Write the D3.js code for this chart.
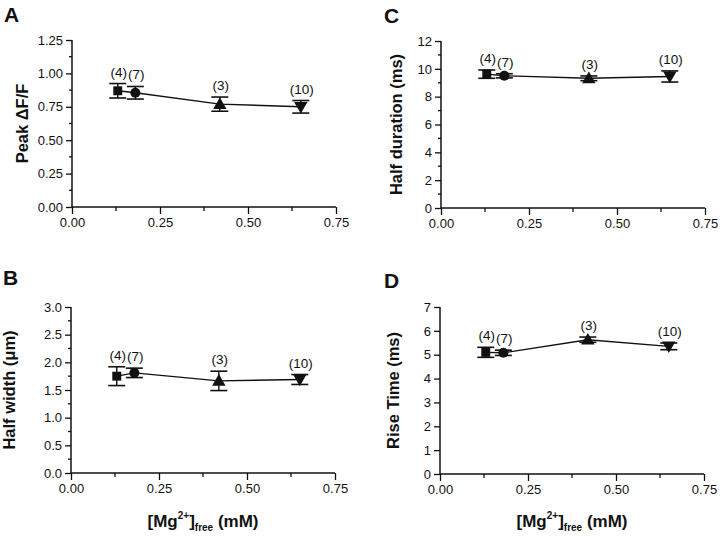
<!DOCTYPE html>
<html>
<head>
<meta charset="utf-8">
<script src="https://cdn.jsdelivr.net/npm/d3@7/dist/d3.min.js"></script>
<style>
  html, body { margin: 0; padding: 0; background: #fff; }
  svg { display: block; }
  text { font-family: "Liberation Sans", Arial, Helvetica, sans-serif; fill: #111; }
</style>
</head>
<body>
<svg id="chart" width="720" height="537"></svg>
<script>
// ---- data ----
const mgFree = [0.13, 0.18, 0.42, 0.65];
const nCells = ["(4)", "(7)", "(3)", "(10)"];
const markerKinds = ["square", "circle", "triangle", "triangleDown"];

const peakMean = [0.87, 0.855, 0.77, 0.75];
const peakErr  = [0.054, 0.047, 0.053, 0.047];

const widthMean = [1.75, 1.81, 1.665, 1.69];
const widthErr  = [0.17, 0.085, 0.175, 0.09];

const durMean = [9.62, 9.5, 9.32, 9.45];
const durErr  = [0.3, 0.15, 0.17, 0.4];

const riseMean = [5.1, 5.08, 5.63, 5.35];
const riseErr  = [0.21, 0.11, 0.11, 0.14];

const xTicks = [0, 0.25, 0.5, 0.75];
const xMinor = [0.125, 0.375, 0.625];

const panels = [
  { letter: "A", title: "Peak \u0394F/F", mean: peakMean, err: peakErr, ymax: 1.25,
    ticks: [0, 0.25, 0.5, 0.75, 1.0, 1.25], minor: [0.125, 0.375, 0.625, 0.875, 1.125], fmt: ".2f",
    box: { x: 72, y: 40, h: 167 }, letterPos: [4, 22], titleX: 28 },
  { letter: "B", title: "Half width (\u03bcm)", mean: widthMean, err: widthErr, ymax: 3,
    ticks: [0, 0.5, 1, 1.5, 2, 2.5, 3], minor: [0.25, 0.75, 1.25, 1.75, 2.25, 2.75], fmt: ".1f",
    box: { x: 71, y: 307, h: 166 }, letterPos: [3, 285], titleX: 15, xtitle: true },
  { letter: "C", title: "Half duration (ms)", mean: durMean, err: durErr, ymax: 12,
    ticks: [0, 2, 4, 6, 8, 10, 12], minor: [1, 3, 5, 7, 9, 11], fmt: "d",
    box: { x: 441, y: 41, h: 167 }, letterPos: [384, 23], titleX: 402 },
  { letter: "D", title: "Rise Time (ms)", mean: riseMean, err: riseErr, ymax: 7,
    ticks: [0, 1, 2, 3, 4, 5, 6, 7], minor: [], fmt: "d",
    box: { x: 440, y: 307, h: 167 }, letterPos: [384, 288], titleX: 399, xtitle: true }
];

const svg = d3.select("#chart");
const plotW = 264;

function markerPath(kind) {
  if (kind === "square") return d3.symbol().type(d3.symbolSquare).size(80)();
  if (kind === "circle") return d3.symbol().type(d3.symbolCircle).size(80)();
  return d3.symbol().type(d3.symbolTriangle).size(78)();
}

panels.forEach(p => {
  const g = svg.append("g");
  const x = d3.scaleLinear().domain([0, 0.75]).range([p.box.x, p.box.x + plotW]);
  const y = d3.scaleLinear().domain([0, p.ymax]).range([p.box.y + p.box.h, p.box.y]);
  const y0 = p.box.y + p.box.h;

  // x axis
  const xa = g.append("g").attr("transform", `translate(0,${y0})`)
    .call(d3.axisBottom(x).tickValues(xTicks).tickSize(7).tickPadding(4).tickFormat(d3.format(".2f")));
  xa.append("g").selectAll("line").data(xMinor).join("line")
    .attr("x1", d => x(d)).attr("x2", d => x(d)).attr("y1", 0).attr("y2", 4)
    .attr("stroke", "#111").attr("stroke-width", 1.3);

  // y axis
  const ya = g.append("g").attr("transform", `translate(${p.box.x},0)`)
    .call(d3.axisLeft(y).tickValues(p.ticks).tickSize(6).tickPadding(3).tickFormat(d3.format(p.fmt)));
  ya.append("g").selectAll("line").data(p.minor).join("line")
    .attr("x1", 0).attr("x2", -3).attr("y1", d => y(d)).attr("y2", d => y(d))
    .attr("stroke", "#111").attr("stroke-width", 1.3);

  [xa, ya].forEach(a => {
    a.select(".domain").attr("stroke", "#111").attr("stroke-width", 1.5)
      .attr("d", a === xa ? `M${x(0)},0H${x(0.75)}` : `M0,${y(0)}V${y(p.ymax)}`);
    a.selectAll(".tick line").attr("stroke", "#111").attr("stroke-width", 1.3);
    a.selectAll(".tick text").attr("font-size", 13).attr("fill", "#1a1a1a")
      .attr("font-family", "'Liberation Sans', Arial, sans-serif");
  });

  // connecting line
  const pts = mgFree.map((v, i) => [x(v), y(p.mean[i])]);
  g.append("path").attr("d", d3.line()(pts))
    .attr("fill", "none").attr("stroke", "#111").attr("stroke-width", 1.4);

  // error bars
  const cap = 8.5;
  mgFree.forEach((v, i) => {
    const cx = x(v), hi = y(p.mean[i] + p.err[i]), lo = y(p.mean[i] - p.err[i]);
    g.append("line").attr("x1", cx).attr("x2", cx).attr("y1", hi).attr("y2", lo)
      .attr("stroke", "#111").attr("stroke-width", 1.4);
    [hi, lo].forEach(yy => g.append("line").attr("x1", cx - cap).attr("x2", cx + cap)
      .attr("y1", yy).attr("y2", yy).attr("stroke", "#111").attr("stroke-width", 1.6));
  });

  // markers
  mgFree.forEach((v, i) => {
    const k = markerKinds[i];
    const rot = k === "triangleDown" ? 180 : 0;
    const dy = k === "triangle" ? 1 : (k === "triangleDown" ? -1 : 0);
    g.append("path").attr("d", markerPath(k))
      .attr("transform", `translate(${x(v)},${y(p.mean[i]) + dy}) rotate(${rot})`)
      .attr("fill", "#111");
  });

  // n labels
  mgFree.forEach((v, i) => {
    g.append("text").attr("x", x(v) + 1).attr("y", y(p.mean[i] + p.err[i]) - 7)
      .attr("text-anchor", "middle").attr("font-size", 13.5).text(nCells[i]);
  });

  // panel letter
  g.append("text").attr("x", p.letterPos[0]).attr("y", p.letterPos[1])
    .attr("font-size", 21).attr("font-weight", "bold").text(p.letter);

  // y title
  g.append("text")
    .attr("transform", `translate(${p.titleX},${p.box.y + p.box.h / 2}) rotate(-90)`)
    .attr("text-anchor", "middle").attr("font-size", 16.5).attr("font-weight", "bold")
    .text(p.title);

  // x title
  if (p.xtitle) {
    const t = g.append("text").attr("x", p.box.x + 132).attr("y", 527)
      .attr("text-anchor", "middle").attr("font-size", 17).attr("font-weight", "bold");
    t.append("tspan").text("[Mg");
    t.append("tspan").attr("font-size", 10).attr("dy", -8).text("2+");
    t.append("tspan").attr("dy", 8).text("]");
    t.append("tspan").attr("font-size", 10).attr("dy", 4).text("free");
    t.append("tspan").attr("dy", -4).text(" (mM)");
  }
});
</script>
</body>
</html>
